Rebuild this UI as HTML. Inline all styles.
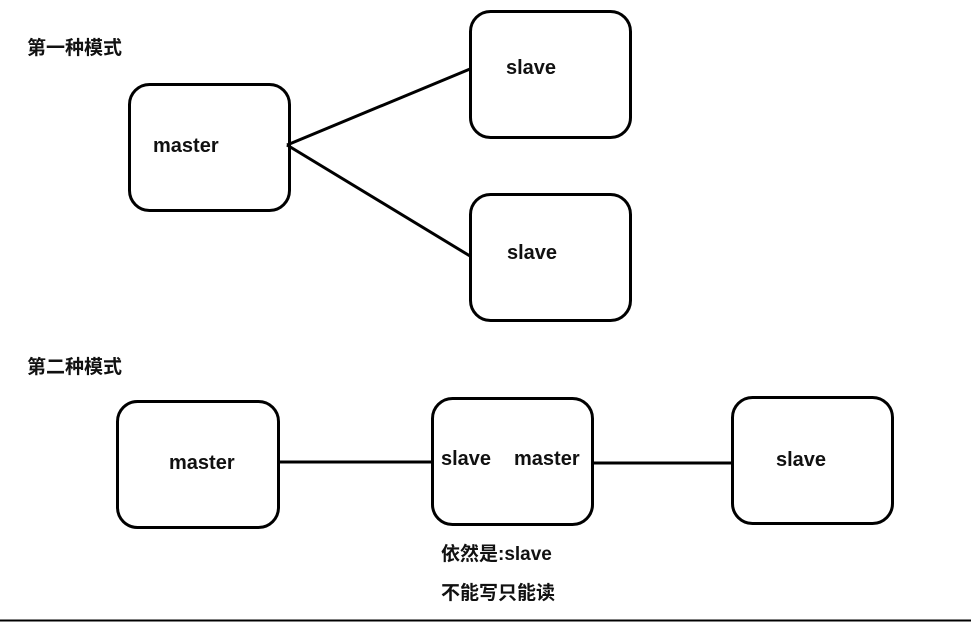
<!DOCTYPE html>
<html><head><meta charset="utf-8"><style>
html,body{margin:0;padding:0;background:#fff;}
svg{display:block;}
text{font-family:"Liberation Sans","Noto Sans CJK SC",sans-serif;font-weight:bold;fill:#111;}
</style></head><body>
<svg width="971" height="622" viewBox="0 0 971 622" xmlns="http://www.w3.org/2000/svg">
<rect x="0" y="0" width="971" height="622" fill="#fff"/>
<g fill="none" stroke="#000" stroke-width="3">
<rect x="129.5" y="84.5" width="160" height="126" rx="20"/>
<rect x="470.5" y="11.5" width="160" height="126" rx="20"/>
<rect x="470.5" y="194.5" width="160" height="126" rx="20"/>
<line x1="287" y1="145" x2="470" y2="69"/>
<line x1="287" y1="145" x2="470" y2="256"/>
<rect x="117.5" y="401.5" width="161" height="126" rx="20"/>
<rect x="432.5" y="398.5" width="160" height="126" rx="20"/>
<rect x="732.5" y="397.5" width="160" height="126" rx="20"/>
<line x1="278" y1="462" x2="432" y2="462"/>
<line x1="593" y1="463" x2="732" y2="463"/>
</g>
<line x1="0" y1="620.5" x2="971" y2="620.5" stroke="#000" stroke-width="2"/>
<text x="27" y="54" font-size="19">第一种模式</text>
<text x="27" y="373" font-size="19">第二种模式</text>
<text x="153" y="152" font-size="20">master</text>
<text x="506" y="74" font-size="20">slave</text>
<text x="507" y="259" font-size="20">slave</text>
<text x="169" y="469" font-size="20">master</text>
<text x="441" y="465" font-size="20">slave</text>
<text x="514" y="465" font-size="20">master</text>
<text x="776" y="466" font-size="20">slave</text>
<text x="441" y="560" font-size="19">依然是:slave</text>
<text x="441" y="599" font-size="19">不能写只能读</text>
</svg>
</body></html>
